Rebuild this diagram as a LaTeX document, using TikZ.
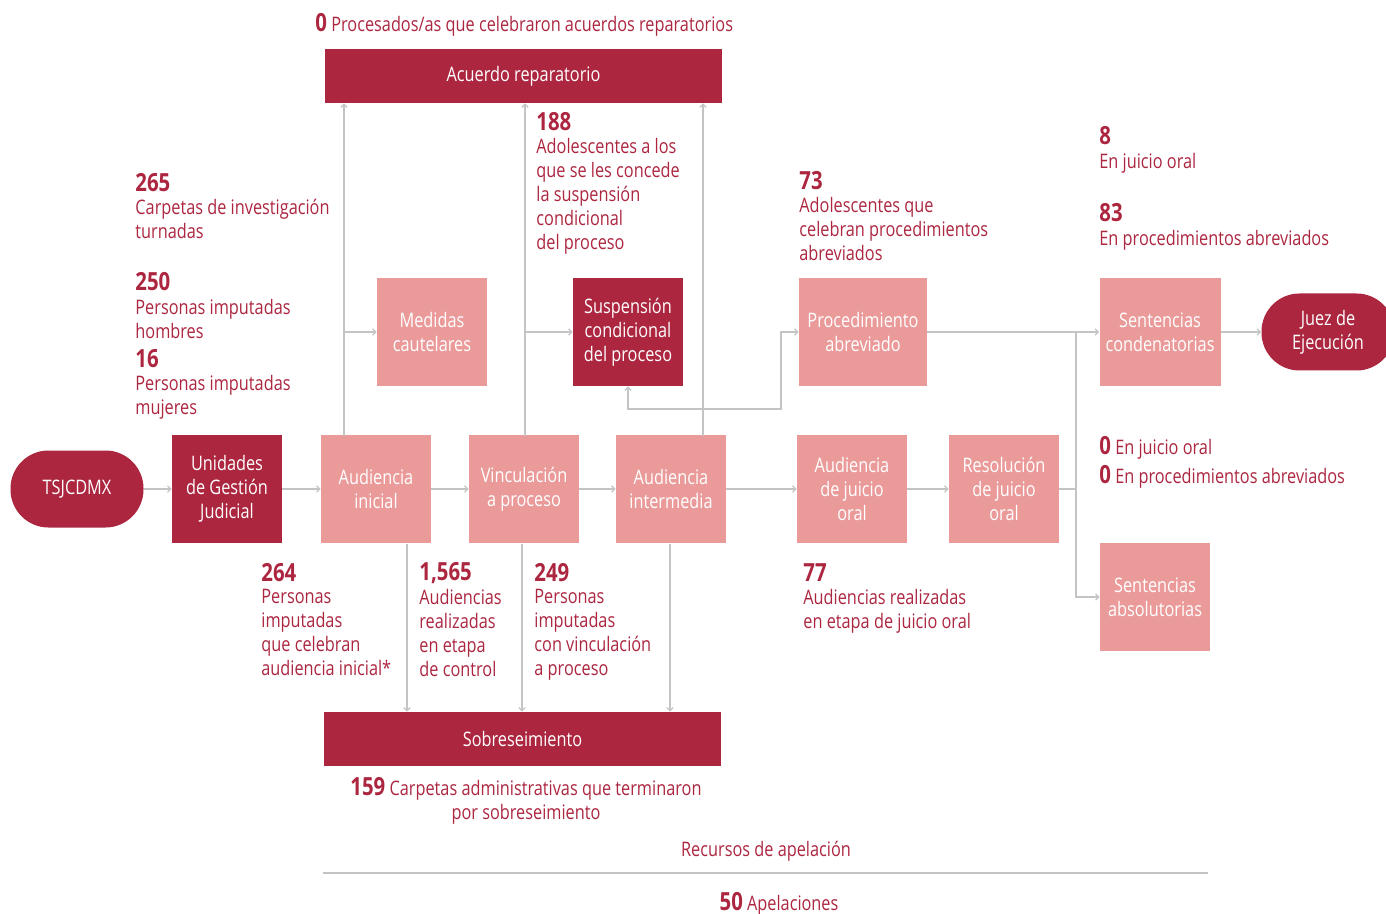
\documentclass[tikz,border=0pt]{standalone}
\usepackage{fontspec}
\setmainfont{Open Sans}[FakeStretch=0.815]
\usepackage{tikz}
\usetikzlibrary{arrows.meta, positioning}

\definecolor{vino}{HTML}{AC2640}
\definecolor{rosa}{HTML}{EB9A9A}
\definecolor{gris}{HTML}{C4C4C4}

\newcommand{\cifra}[1]{{\fontsize{12.5}{12}\selectfont\bfseries #1}}

\tikzset{
    caja/.style={text=white, align=center, inner sep=0pt, minimum width=55pt, minimum height=54pt, font=\fontsize{10}{12}\selectfont},
    oscura/.style={caja, fill=vino},
    clara/.style={caja, fill=rosa},
    ovalo/.style={oscura, rounded corners=19pt, minimum width=66.5pt, minimum height=38.5pt},
    barra/.style={oscura, minimum width=198.5pt, minimum height=27pt},
    linea/.style={draw=gris, line width=0.6pt},
    flecha/.style={linea, -{Straight Barb[length=1.6pt,width=3.2pt]}},
    doble/.style={linea, {Straight Barb[length=1.6pt,width=3.2pt]}-{Straight Barb[length=1.6pt,width=3.2pt]}},
    cifranodo/.style={text=vino, anchor=west, inner sep=0pt, font=\fontsize{12.5}{12}\selectfont\bfseries},
    texto/.style={text=vino, anchor=north west, align=left, inner sep=0pt, font=\fontsize{10}{12}\selectfont},
    renglon/.style={text=vino, anchor=west, inner sep=0pt, font=\fontsize{10}{12}\selectfont}
}

\begin{document}
\begin{tikzpicture}[x=0.5pt, y=-0.5pt]
        \useasboundingbox (0,0) rectangle (1386,914);

        \node[ovalo] (tsj) at (77,489) {TSJCDMX};
        \node[oscura] (ugj) at (227,489) {Unidades\\de Gestión\\Judicial};
        \node[clara] (ainicial) at (376,489) {Audiencia\\inicial};
        \node[clara] (vinc) at (524,489) {Vinculación\\a proceso};
        \node[clara] (ainter) at (671,489) {Audiencia\\intermedia};
        \node[clara] (ajuicio) at (852,489) {Audiencia\\de juicio\\oral};
        \node[clara] (resol) at (1004,489) {Resolución\\de juicio\\oral};

        \node[clara] (medidas) at (432,332) {Medidas\\cautelares};
        \node[oscura] (susp) at (628,332) {Suspensión\\condicional\\del proceso};
        \node[clara, minimum width=64pt] (proc) at (863,332) {Procedimiento\\abreviado};
        \node[clara, minimum width=60.5pt] (condena) at (1160,332) {Sentencias\\condenatorias};
        \node[ovalo] (juez) at (1328,332) {Juez de\\Ejecución};
        \node[clara] (absol) at (1155,597) {Sentencias\\absolutorias};

        \node[barra] (acuerdo) at (523.5,76) {Acuerdo reparatorio};
        \node[barra] (sobre) at (522.5,739) {Sobreseimiento};

        \coordinate (subeA) at (344,436);
        \coordinate (subeV) at (525,436);
        \coordinate (subeI) at (703,436);
        \coordinate (bajaA) at (407,544);
        \coordinate (bajaV) at (522,544);
        \coordinate (bajaI) at (670,544);
        \coordinate (quiebre) at (781,409);
        \coordinate (reparto) at (1076,489);
        \coordinate (apelA) at (323,873);
        \coordinate (apelB) at (1208,873);

        \draw[flecha] (tsj) -- (ugj);
        \draw[flecha] (ugj) -- (ainicial);
        \draw[flecha] (ainicial) -- (vinc);
        \draw[flecha] (vinc) -- (ainter);
        \draw[flecha] (ainter) -- (ajuicio);
        \draw[flecha] (ajuicio) -- (resol);

        \draw[flecha] (subeA) -- (subeA |- acuerdo.south);
        \draw[flecha] (subeV) -- (subeV |- acuerdo.south);
        \draw[flecha] (subeI) -- (subeI |- acuerdo.south);
        \draw[flecha] (subeA |- medidas.west) -- (medidas.west);
        \draw[flecha] (subeV |- susp.west) -- (susp.west);

        \draw[flecha] (bajaA) -- (bajaA |- sobre.north);
        \draw[flecha] (bajaV) -- (bajaV |- sobre.north);
        \draw[flecha] (bajaI) -- (bajaI |- sobre.north);

        \draw[doble] (susp.south) |- (quiebre) |- (proc.west);

        \draw[flecha] (proc) -- (condena);
        \draw[linea] (resol) -- (reparto);
        \draw[flecha] (reparto |- condena.west) |- (absol.west);
        \draw[flecha] (condena) -- (juez);

        \draw[linea, line width=1pt] (apelA) -- (apelB);

        \node[renglon] (acuerdoTxt) at (315,25) {\cifra{0} Procesados/as que celebraron acuerdos reparatorios};

        \node[cifranodo] (carpetasNum) at (135,183) {265};
        \node[texto] (carpetasTxt) at (135,199) {Carpetas de investigación\\turnadas};
        \node[cifranodo] (hombresNum) at (135,282) {250};
        \node[texto] (hombresTxt) at (135,299) {Personas imputadas\\hombres};
        \node[cifranodo] (mujeresNum) at (135,359) {16};
        \node[texto] (mujeresTxt) at (135,375) {Personas imputadas\\mujeres};

        \node[cifranodo] (suspNum) at (536,122) {188};
        \node[texto] (suspTxt) at (536,138) {Adolescentes a los\\que se les concede\\la suspensión\\condicional\\del proceso};

        \node[cifranodo] (procNum) at (799,181) {73};
        \node[texto] (procTxt) at (799,197) {Adolescentes que\\celebran procedimientos\\abreviados};

        \node[cifranodo] (oralNum) at (1099,136) {8};
        \node[texto] (oralTxt) at (1099,153) {En juicio oral};
        \node[cifranodo] (abrevNum) at (1099,213) {83};
        \node[texto] (abrevTxt) at (1099,230) {En procedimientos abreviados};

        \node[renglon] (absolOral) at (1099,448) {\cifra{0} En juicio oral};
        \node[renglon] (absolAbrev) at (1099,477) {\cifra{0} En procedimientos abreviados};

        \node[cifranodo] (inicialNum) at (261,573) {264};
        \node[texto] (inicialTxt) at (261,589) {Personas\\imputadas\\que celebran\\audiencia inicial*};
        \node[cifranodo] (controlNum) at (419,573) {1,565};
        \node[texto] (controlTxt) at (419,589) {Audiencias\\realizadas\\en etapa\\de control};
        \node[cifranodo] (vincNum) at (534,573) {249};
        \node[texto] (vincTxt) at (534,589) {Personas\\imputadas\\con vinculación\\a proceso};
        \node[cifranodo] (juicioNum) at (803,573) {77};
        \node[texto] (juicioTxt) at (803,589) {Audiencias realizadas\\en etapa de juicio oral};

        \node[texto, anchor=north, align=center] (sobreTxt) at (526,777) {\cifra{159} Carpetas administrativas que terminaron\\por sobreseimiento};

        \node[text=vino, font=\fontsize{10}{12}\selectfont] (recursos) at (766,851) {Recursos de apelación};
        \node[text=vino, font=\fontsize{10}{12}\selectfont] (apelaciones) at (779,904) {\cifra{50} Apelaciones};
\end{tikzpicture}
\end{document}
